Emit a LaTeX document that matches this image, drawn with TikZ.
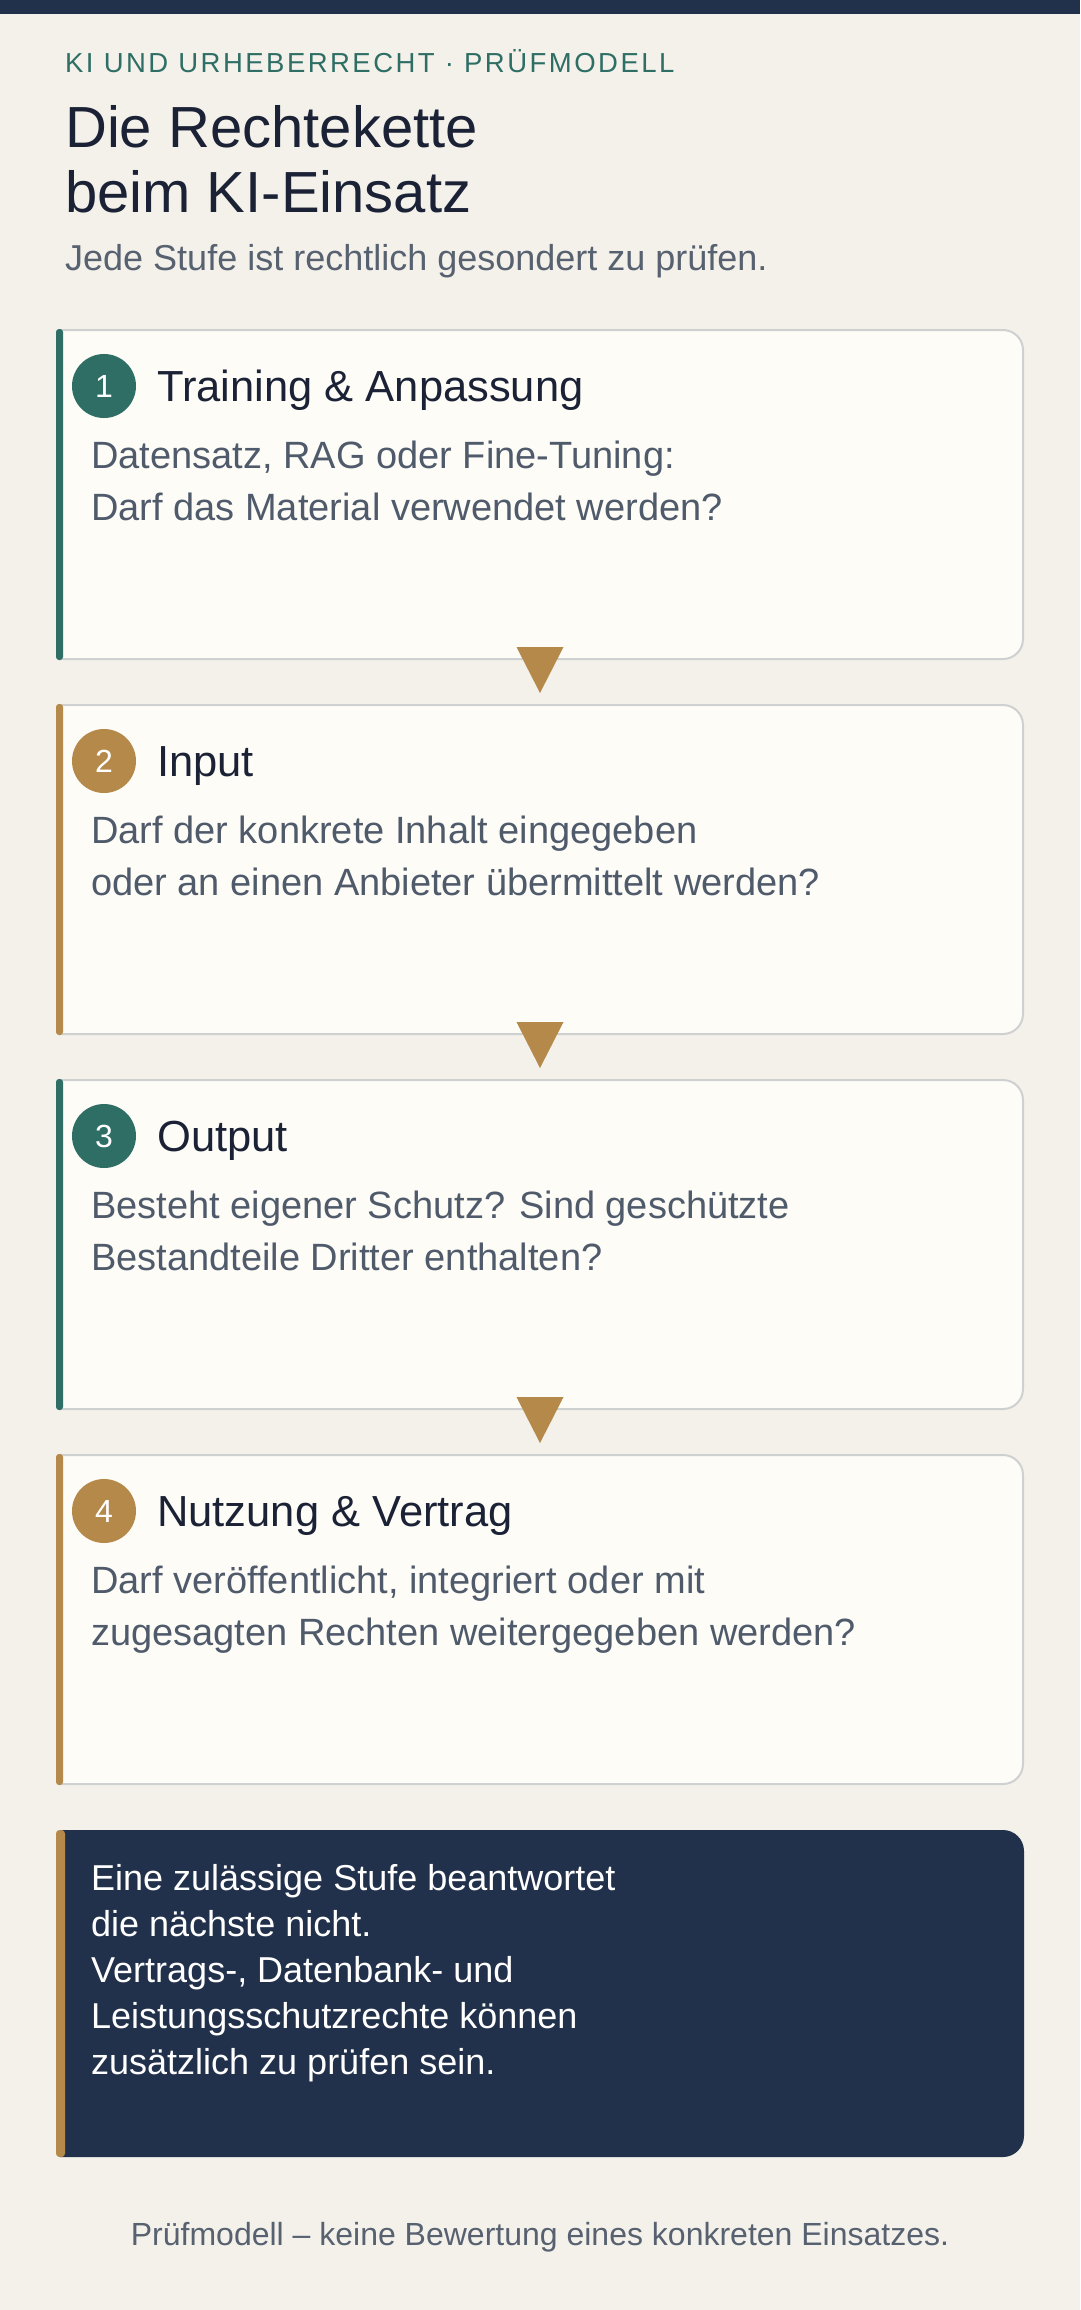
\documentclass[tikz,border=0pt]{standalone}
\usepackage{fontspec}
\setmainfont{Liberation Sans}
\usetikzlibrary{calc}
\definecolor{pagebg}{HTML}{F3F1EA}
\definecolor{cardbg}{HTML}{FDFCF7}
\definecolor{cardline}{HTML}{CFD1D1}
\definecolor{accteal}{HTML}{2E6E65}
\definecolor{accgold}{HTML}{B5894A}
\definecolor{navy}{HTML}{22314B}
\definecolor{inkdark}{HTML}{1B2236}
\definecolor{bodygray}{HTML}{4F5A6B}
\definecolor{subgray}{HTML}{576170}
\newcommand\mylines[1]{\parbox[t]{960pt}{\raggedright #1}}
\tikzset{
  toptext/.style={anchor=base west, inner sep=0pt},
  kicker/.style={toptext, text=accteal, font=\fontsize{27.5}{30}\selectfont\addfontfeature{LetterSpace=9}},
  headline/.style={toptext, text=inkdark, font=\fontsize{58}{65}\selectfont},
  subline/.style={toptext, text=subgray, font=\fontsize{36}{42}\selectfont},
  badge/.style={circle, minimum size=64pt, inner sep=0pt, text=white, font=\fontsize{32}{36}\selectfont},
  stagetitle/.style={toptext, text=inkdark, font=\fontsize{43.5}{52}\selectfont},
  stagebody/.style={toptext, text=bodygray, font=\fontsize{38}{52}\selectfont},
  cardframe/.style={fill=cardbg, draw=cardline, line width=2pt},
  notetext/.style={toptext, text=white, font=\fontsize{36}{46}\selectfont},
  footline/.style={anchor=base, inner sep=0pt, text=subgray, font=\fontsize{32}{38}\selectfont},
}
\newcommand\stagecard[6]{%
  \pgfmathsetmacro\yt{#2}\pgfmathsetmacro\yb{#2+329}%
  \begin{scope}
    \clip (60,\yt-5) rectangle (1030,\yb+5);
    \draw[cardframe, rounded corners=20pt] (20,\yt) rectangle (1023,\yb);
  \end{scope}
  \fill[#3, rounded corners=3pt] (56,\yt-1) rectangle (63,\yb+1);
  \coordinate (#1-top) at (540,\yt);
  \coordinate (#1-bot) at (540,\yb);
  \node[badge, fill=#3] (#1-num) at (104,\yt+56) {#4};
  \node[stagetitle] (#1-title) at (157,\yt+71) {#5};
  \node[stagebody] (#1-body) at (91,\yt+138) {\mylines{#6}};
}
\begin{document}
\begin{tikzpicture}[x=1pt,y=-1pt]
\useasboundingbox (0,0) rectangle (1080,2310);
\fill[pagebg] (0,0) rectangle (1080,2310);
\fill[navy] (0,0) rectangle (1080,14);

\node[kicker] (kick) at (65,72) {KI UND URHEBERRECHT · PRÜFMODELL};
\node[headline] (head) at (65,147) {\mylines{Die Rechtekette\\beim KI-Einsatz}};
\node[subline] (sub) at (65,270) {Jede Stufe ist rechtlich gesondert zu prüfen.};

\stagecard{c1}{330}{accteal}{1}{Training \& Anpassung}{Datensatz, RAG oder Fine-Tuning:\\Darf das Material verwendet werden?}
\stagecard{c2}{705}{accgold}{2}{Input}{Darf der konkrete Inhalt eingegeben\\oder an einen Anbieter übermittelt werden?}
\stagecard{c3}{1080}{accteal}{3}{Output}{Besteht eigener Schutz? Sind geschützte\\Bestandteile Dritter enthalten?}
\stagecard{c4}{1455}{accgold}{4}{Nutzung \& Vertrag}{Darf veröffentlicht, integriert oder mit\\zugesagten Rechten weitergegeben werden?}

\foreach \a/\b in {c1/c2, c2/c3, c3/c4}
  \fill[accgold] ($(\a-bot)+(-23.5,-12)$) -- ($(\a-bot)+(23.5,-12)$) -- ($(\b-top)+(0,-12)$) -- cycle;

\begin{scope}
  \clip (60,1820) rectangle (1030,2170);
  \fill[navy, rounded corners=21pt] (20,1830) rectangle (1024,2157);
\end{scope}
\fill[accgold, rounded corners=3.5pt] (56,1830) rectangle (65,2157);
\node[notetext] (note) at (91,1890) {\mylines{Eine zulässige Stufe beantwortet\\die nächste nicht.\\Vertrags-, Datenbank- und\\Leistungsschutzrechte können\\zusätzlich zu prüfen sein.}};

\node[footline] (foot) at (540,2245) {Prüfmodell – keine Bewertung eines konkreten Einsatzes.};
\end{tikzpicture}
\end{document}
